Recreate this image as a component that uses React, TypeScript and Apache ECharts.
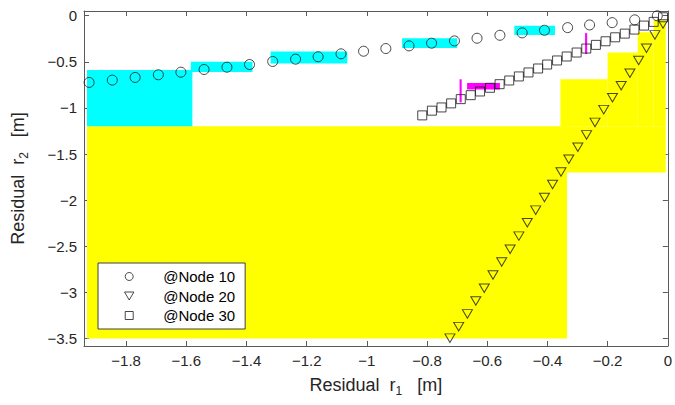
import React, { useEffect, useRef } from 'react';
import * as echarts from 'echarts';

// ---------- data ----------
const xTicks = [-1.8, -1.6, -1.4, -1.2, -1, -0.8, -0.6, -0.4, -0.2, 0];
const yTicks = [0, -0.5, -1, -1.5, -2, -2.5, -3, -3.5];
const xRange = [-1.94, 0];
const yRange = [-3.58, 0.05];

const seriesNames = ['@Node 10', '@Node 20', '@Node 30'];

const node10 = [
  [-1.923, -0.724], [-1.846, -0.699], [-1.770, -0.670], [-1.693, -0.641], [-1.618, -0.613],
  [-1.541, -0.584], [-1.465, -0.559], [-1.390, -0.530], [-1.313, -0.497], [-1.237, -0.472],
  [-1.162, -0.446], [-1.086, -0.414], [-1.011, -0.386], [-0.937, -0.357], [-0.860, -0.328],
  [-0.785, -0.299], [-0.709, -0.274], [-0.634, -0.245], [-0.558, -0.213], [-0.484, -0.187],
  [-0.410, -0.159], [-0.333, -0.130], [-0.260, -0.101], [-0.185, -0.076], [-0.110, -0.046],
  [-0.035, -0.002],
];

const node20 = [
  [-0.016, -0.090], [-0.043, -0.209], [-0.071, -0.354], [-0.097, -0.486], [-0.126, -0.624],
  [-0.155, -0.760], [-0.184, -0.890], [-0.213, -1.019], [-0.242, -1.157], [-0.270, -1.292],
  [-0.299, -1.427], [-0.329, -1.557], [-0.355, -1.694], [-0.383, -1.830], [-0.410, -1.971],
  [-0.439, -2.108], [-0.467, -2.245], [-0.495, -2.389], [-0.524, -2.532], [-0.552, -2.670],
  [-0.581, -2.811], [-0.610, -2.954], [-0.638, -3.092], [-0.666, -3.232], [-0.695, -3.370],
  [-0.724, -3.495],
];

const node30 = [
  [-0.816, -1.081], [-0.784, -1.030], [-0.752, -0.995], [-0.720, -0.951], [-0.688, -0.905],
  [-0.655, -0.862], [-0.624, -0.822], [-0.591, -0.782], [-0.559, -0.743], [-0.527, -0.703],
  [-0.495, -0.659], [-0.463, -0.616], [-0.431, -0.573], [-0.401, -0.530], [-0.368, -0.486],
  [-0.336, -0.443], [-0.303, -0.400], [-0.271, -0.357], [-0.239, -0.317], [-0.207, -0.278],
  [-0.175, -0.235], [-0.143, -0.195], [-0.111, -0.151], [-0.079, -0.108], [-0.047, -0.068],
  [-0.016, -0.018],
];

// boxes: [x1, x2, y1, y2]
const yellowBoxes = [
  [-1.93, -0.335, -3.5, -1.2],
  [-0.357, -0.007, -1.7, -1.2],
  [-0.357, -0.2, -1.2, -0.69],
  [-0.2, -0.1, -1.2, -0.4],
  [-0.1, -0.047, -1.2, -0.18],
  [-0.047, -0.007, -1.2, -0.05],
];
const cyanBoxes = [
  [-1.93, -1.58, -1.2, -0.59],
  [-1.585, -1.38, -0.61, -0.5],
  [-1.32, -1.065, -0.52, -0.39],
  [-0.883, -0.70, -0.35, -0.245],
  [-0.51, -0.375, -0.21, -0.11],
];
const magentaBoxes = [
  [-0.667, -0.558, -0.8, -0.73],
  [-0.692, -0.685, -0.94, -0.69],
  [-0.275, -0.268, -0.415, -0.19],
];

// ---------- styles ----------
const FONT = '"Liberation Sans", Arial, Helvetica, sans-serif';
const AXIS_COLOR = '#5a5a5a';
const TEXT_COLOR = '#262626';
const MARK_COLOR = '#1a1a1a';
const TRI = 'path://M0,0L10,0L5,8.5Z';
const SQUARE = 'path://M0,0L10,0L10,10L0,10Z';
const fmt = (v: number) => (v < 0 ? '\u2212' + String(-v) : String(v));

function boxSeries(data: number[][], color: string, z: number) {
  return {
    type: 'custom',
    data,
    encode: { x: [0, 1], y: [2, 3] },
    silent: true,
    z,
    renderItem: (_params: any, api: any) => {
      const p1 = api.coord([api.value(0), api.value(3)]);
      const p2 = api.coord([api.value(1), api.value(2)]);
      return {
        type: 'rect',
        shape: { x: p1[0], y: p1[1], width: p2[0] - p1[0], height: p2[1] - p1[1] },
        style: { fill: color },
      };
    },
  };
}

const hollow = { color: 'rgba(0,0,0,0)', borderColor: MARK_COLOR, borderWidth: 1 };

const richName = () => ({
  fontFamily: FONT,
  color: TEXT_COLOR,
  rich: {
    a: { fontSize: 18, fontFamily: FONT, color: TEXT_COLOR, lineHeight: 24, verticalAlign: 'middle' },
    s: { fontSize: 12, fontFamily: FONT, color: TEXT_COLOR, lineHeight: 12, verticalAlign: 'bottom' },
  },
});

export default function App() {
  const ref = useRef<HTMLDivElement>(null);
  useEffect(() => {
    if (!ref.current) return;
    const chart = echarts.init(ref.current, undefined, { renderer: 'svg' });
    const tickCommon = { show: true, inside: true, length: 5, lineStyle: { color: AXIS_COLOR, width: 1 } };
    const lineCommon = { show: true, onZero: false, lineStyle: { color: AXIS_COLOR, width: 1 } };
    chart.setOption({
      animation: false,
      backgroundColor: '#ffffff',
      grid: { left: 84, right: 7, top: 11, bottom: 59, containLabel: false },
      xAxis: [
        {
          type: 'value', min: xRange[0], max: xRange[1], position: 'bottom',
          axisLine: lineCommon,
          axisTick: { ...tickCommon, customValues: xTicks },
          axisLabel: { customValues: xTicks, formatter: fmt, fontSize: 15, fontFamily: FONT, color: TEXT_COLOR, margin: 7 },
          splitLine: { show: false },
          name: '{a|Residual  r}{s|1}{a|   [m]}',
          nameLocation: 'middle', nameGap: 27,
          nameTextStyle: richName(),
        },
        {
          type: 'value', min: xRange[0], max: xRange[1], position: 'top',
          axisLine: lineCommon,
          axisTick: { ...tickCommon, customValues: xTicks },
          axisLabel: { show: false },
          splitLine: { show: false },
        },
      ],
      yAxis: [
        {
          type: 'value', min: yRange[0], max: yRange[1], position: 'left',
          axisLine: lineCommon,
          axisTick: { ...tickCommon, customValues: yTicks },
          axisLabel: { customValues: yTicks, formatter: fmt, fontSize: 15, fontFamily: FONT, color: TEXT_COLOR, margin: 7 },
          splitLine: { show: false },
          name: '{a|Residual  r}{s|2}{a|   [m]}',
          nameLocation: 'middle', nameGap: 54, nameRotate: 90,
          nameTextStyle: richName(),
        },
        {
          type: 'value', min: yRange[0], max: yRange[1], position: 'right',
          axisLine: lineCommon,
          axisTick: { ...tickCommon, customValues: yTicks },
          axisLabel: { show: false },
          splitLine: { show: false },
        },
      ],
      legend: {
        data: [
          { name: seriesNames[0], icon: 'circle', itemStyle: hollow },
          { name: seriesNames[1], icon: TRI, itemStyle: hollow },
          { name: seriesNames[2], icon: SQUARE, itemStyle: hollow },
        ],
        orient: 'vertical',
        left: 98,
        top: 263,
        itemWidth: 10,
        itemHeight: 8,
        itemGap: 4.5,
        padding: [6, 10, 6, 26],
        backgroundColor: '#ffffff',
        borderColor: '#404040',
        borderWidth: 1,
        borderRadius: 0,
        selectedMode: false,
        textStyle: { fontSize: 15, fontFamily: FONT, color: '#000', padding: [0, 0, 0, 24] },
      },
      series: [
        boxSeries(yellowBoxes, '#ffff00', 1),
        boxSeries(cyanBoxes, '#00ffff', 2),
        boxSeries(magentaBoxes, '#ff00ff', 3),
        {
          name: seriesNames[0], type: 'scatter', data: node10, symbol: 'circle', symbolSize: 10,
          itemStyle: hollow, clip: false, z: 5, silent: true,
        },
        {
          name: seriesNames[1], type: 'scatter', data: node20, symbol: TRI, symbolSize: [10, 8.5],
          itemStyle: hollow, clip: false, z: 5, silent: true,
        },
        {
          name: seriesNames[2], type: 'scatter', data: node30, symbol: SQUARE, symbolSize: 9,
          itemStyle: hollow, clip: false, z: 5, silent: true,
        },
      ],
    });
    return () => chart.dispose();
  }, []);
  return (
    <div
      ref={ref}
      style={{ position: 'fixed', left: 0, top: 0, width: 675, height: 405, background: '#fff' }}
    />
  );
}
